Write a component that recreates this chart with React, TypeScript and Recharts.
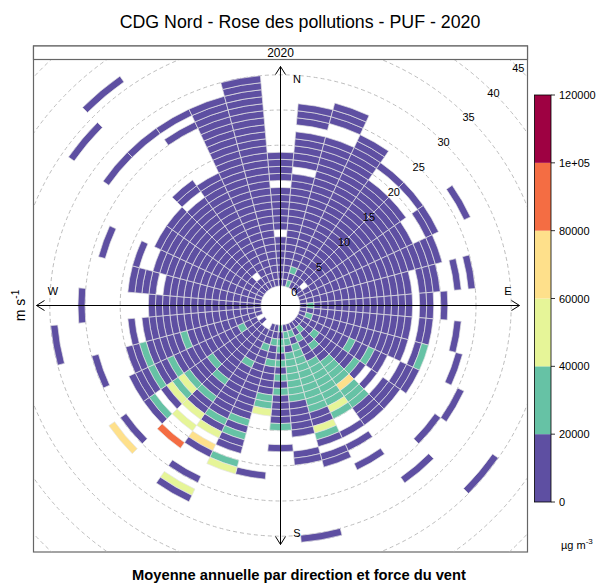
import React from "react";
import { PieChart, Pie, Cell } from "recharts";

// wind direction bins, degrees clockwise from north (10 degree sectors)
const directions = [0, 10, 20, 30, 40, 50, 60, 70, 80, 90, 100, 110, 120, 130, 140, 150, 160, 170,
  180, 190, 200, 210, 220, 230, 240, 250, 260, 270, 280, 290, 300, 310, 320, 330, 340, 350];

// radial axis labels (m/s)
const speedTicks = [0, 5, 10, 15, 20, 25, 30, 35, 40, 45];

// one string per direction, one letter per 1 m/s bin from 0 m/s outwards
// p < 20000, t 20000-40000, g 40000-60000, y 60000-80000, o 80000-100000, "." = no data
const northEast = [
  "ppppp pp.pp pppp. pppp.",                // 0
  "ppppp ppppp ppppp p.ppp pp.pp p",        // 10
  "tptpp ppppp ppppp ppppp pp..p pp",       // 20
  "ppppp ppppp ppppp ppppp pppp",           // 30
  "ppppp ppppp ppppp pppp. .p",             // 40
  "p.ppp ppppp ppppp pppp. .p",             // 50
  "ppppp ppppp ppppp ppp.. pp... .p",       // 60
  "ppppp ppppp ppppp ppppp p",              // 70
  "ppppp ppppp ppppp p.ppp ..p.p",          // 80
];
const southEast = [
  "ptppp ppppp ppppp p.pp. p",              // 90
  "ppppp ppppp ppppp p.pp. ..p",            // 100
  "ptppp ppppp ppppp p.pt. ...p",           // 110
  "ppppp ppptp ptpp. .ppp. ..... p",        // 120
  "ppptp ppppp tp.p. ppp.. ....p ..... ....p", // 130
  "ptppt ppttt tyttt ppp.. ..... ..p",      // 140
  "pptpp ptttt tttgt ..p.p ..p",            // 150
  "ptptt ttttt tttpp gtp.p p",              // 160
  "pttpt ttttt tpppp p..pp ..... ..... p",  // 170
];
const southWest = [
  "tpttp tptpt ppppt ..p",                  // 180
  "pptpp tpppp ttg.. ..... .p",             // 190
  "ppptp ppppp ppppt ptpp. tg",             // 200
  ".pppp ptppp ppppp tpg.y p...p .gp",      // 210
  ".pppp ppppp tpptp pg.g. .o",             // 220
  "ppppp ppppt ppptg tgp.t p...p .y",       // 230
  ".pptp ppppp ppppt pptpp p",              // 240
  "ppppp ppppp ptppp pptpp ....p",          // 250
  "ppppp ppppp ppppp pp.p. ..... ....p",    // 260
];
const northWest = [
  "ppppp ppppp ppppp p.... ..... p",        // 270
  "ppppp ppppp pppp. pppp.",                // 280
  "ppppp ppppp ppppp p..p. ...p",           // 290
  "ppppp ppppp ppppp pp",                   // 300
  "ppppp ppppp ppppp pp... ..... ..p.. ...p", // 310
  "pp.pp ppppp ppppp p.pp. ..... ..p.. ..... .p", // 320
  "ppppp ppppp ppppp ppp.. ..... p.p",      // 330
  "ppppp ppppp ppppp ppppp ppppp ppp",      // 340
  "ppppp ppppp ppppp ppppp ppppp ppppp",    // 350
];

// colour key
const legendBreaks = [0, 20000, 40000, 60000, 80000, 100000, 120000];
const legendLabels = ["0", "20000", "40000", "60000", "80000", "1e+05", "120000"];
const legendColors = ["#5E4FA2", "#66C2A5", "#E6F598", "#FEE08B", "#F46D43", "#9E0142"];
const classCodes = ["p", "t", "g", "y", "o", "r"];

const compassLabels = [
  { label: "N", x: 297, y: 79 },
  { label: "E", x: 508, y: 291 },
  { label: "S", x: 297, y: 533 },
  { label: "W", x: 53, y: 291 },
];

const W = 603;
const H = 583;
const CX = 280.5;
const CY = 305.5;
const HOLE = 19.5;
const PX_PER_MS = 7.04;
const AXIS_LEN = 239;
const FONT = "'Liberation Sans', Arial, Helvetica, sans-serif";

const rScale = (ws: number) => HOLE + PX_PER_MS * ws;

const cellsByDir = [...northEast, ...southEast, ...southWest, ...northWest].map((s) => s.replace(/\s/g, ""));
const nBins = Math.max(...cellsByDir.map((s) => s.length));
const rings = Array.from({ length: nBins }, (_, k) =>
  directions.map((dir, i) => ({ dir, value: 1, code: cellsByDir[i][k] ?? "." }))
);

const colourOf = (code: string) => {
  const idx = classCodes.indexOf(code);
  return idx < 0 ? "none" : legendColors[idx];
};

// colour bar scale
const BAR_X = 534.5;
const BAR_W = 16.5;
const BAR_TOP = 95;
const BAR_BOTTOM = 502;
const barY = (v: number) => BAR_BOTTOM - (v / legendBreaks[legendBreaks.length - 1]) * (BAR_BOTTOM - BAR_TOP);

function Background() {
  return (
    <g>
      <rect x={33.5} y={46} width={494} height={506} fill="#fff" stroke="#666" strokeWidth={1.2} />
      <defs>
        <clipPath id="panel">
          <rect x={34} y={60} width={493} height={491.5} />
        </clipPath>
      </defs>
      <g clipPath="url(#panel)">
        {speedTicks.slice(1).map((t) => (
          <circle key={t} cx={CX} cy={CY} r={rScale(t)} fill="none" stroke="#bdbdbd" strokeWidth={1} strokeDasharray="4 3" />
        ))}
      </g>
    </g>
  );
}

// drawn in a second svg on top, so the axes and speed labels sit over the cells like the original
function Overlay() {
  const diag = Math.SQRT1_2;
  const top = CY - AXIS_LEN;
  const bottom = CY + AXIS_LEN;
  const left = CX - AXIS_LEN - 5;
  const right = CX + AXIS_LEN;
  return (
    <svg
      width={W}
      height={H}
      style={{ position: "absolute", left: 0, top: 0, pointerEvents: "none" }}
      fontFamily={FONT}
    >
      <rect x={33.5} y={46} width={494} height={13.5} fill="#fff" stroke="#666" strokeWidth={1.2} />
      <text x={CX} y={57} textAnchor="middle" fontSize={12}>2020</text>

      <line x1={CX} y1={top} x2={CX} y2={bottom} stroke="#000" strokeWidth={1} />
      <line x1={left} y1={CY} x2={right} y2={CY} stroke="#000" strokeWidth={1} />
      <polyline points={`${CX - 5},${top + 8} ${CX},${top} ${CX + 5},${top + 8}`} fill="none" stroke="#000" />
      <polyline points={`${CX - 5},${bottom - 8} ${CX},${bottom} ${CX + 5},${bottom - 8}`} fill="none" stroke="#000" />
      <polyline points={`${left + 8},${CY - 5} ${left},${CY} ${left + 8},${CY + 5}`} fill="none" stroke="#000" />
      <polyline points={`${right - 8},${CY - 5} ${right},${CY} ${right - 8},${CY + 5}`} fill="none" stroke="#000" />
      {compassLabels.map((c) => (
        <text key={c.label} x={c.x} y={c.y} textAnchor="middle" dominantBaseline="central" fontSize={11}>
          {c.label}
        </text>
      ))}
      {speedTicks.map((t) => (
        <text
          key={t}
          x={CX + rScale(t) * diag}
          y={CY - rScale(t) * diag}
          textAnchor="middle"
          dominantBaseline="central"
          fontSize={11}
        >
          {t}
        </text>
      ))}

      {/* title, axis title, caption */}
      <text x={300} y={22} textAnchor="middle" dominantBaseline="central" fontSize={17.8}>
        CDG Nord - Rose des pollutions - PUF - 2020
      </text>
      <text x={20} y={CY} textAnchor="middle" dominantBaseline="central" fontSize={14} transform={`rotate(-90 20 ${CY})`}>
        m s<tspan dy={-5} fontSize={10}>-1</tspan>
      </text>
      <text x={299} y={575} textAnchor="middle" dominantBaseline="central" fontSize={14.7} fontWeight="bold">
        Moyenne annuelle par direction et force du vent
      </text>

      {/* colour key */}
      {legendColors.map((col, i) => (
        <rect
          key={col}
          x={BAR_X}
          y={barY(legendBreaks[i + 1])}
          width={BAR_W}
          height={barY(legendBreaks[i]) - barY(legendBreaks[i + 1])}
          fill={col}
        />
      ))}
      <rect x={BAR_X} y={BAR_TOP} width={BAR_W} height={BAR_BOTTOM - BAR_TOP} fill="none" stroke="#000" strokeWidth={0.8} />
      {legendBreaks.map((b, i) => (
        <g key={b}>
          <line x1={BAR_X + BAR_W} x2={BAR_X + BAR_W + 4} y1={barY(b)} y2={barY(b)} stroke="#000" strokeWidth={0.8} />
          <text x={BAR_X + BAR_W + 8} y={barY(b)} dominantBaseline="central" fontSize={11}>
            {legendLabels[i]}
          </text>
        </g>
      ))}
      <text x={561} y={545} dominantBaseline="central" fontSize={11}>
        µg m<tspan dy={-4} fontSize={8}>-3</tspan>
      </text>
    </svg>
  );
}

export default function App() {
  return (
    <div style={{ position: "absolute", left: 0, top: 0, width: W, height: H, background: "#fff" }}>
      <PieChart width={W} height={H} margin={{ top: 0, right: 0, bottom: 0, left: 0 }}>
        <Background />
        {rings.map((ring, k) => (
          <Pie
            key={k}
            data={ring}
            dataKey="value"
            nameKey="dir"
            cx={CX}
            cy={CY}
            innerRadius={rScale(k)}
            outerRadius={rScale(k + 1)}
            startAngle={95}
            endAngle={-265}
            paddingAngle={0}
            isAnimationActive={false}
            stroke="none"
          >
            {ring.map((c, i) => (
              <Cell
                key={i}
                fill={colourOf(c.code)}
                stroke={c.code === "." ? "none" : "#e4e4e4"}
                strokeWidth={0.7}
              />
            ))}
          </Pie>
        ))}
      </PieChart>
      <Overlay />
    </div>
  );
}
